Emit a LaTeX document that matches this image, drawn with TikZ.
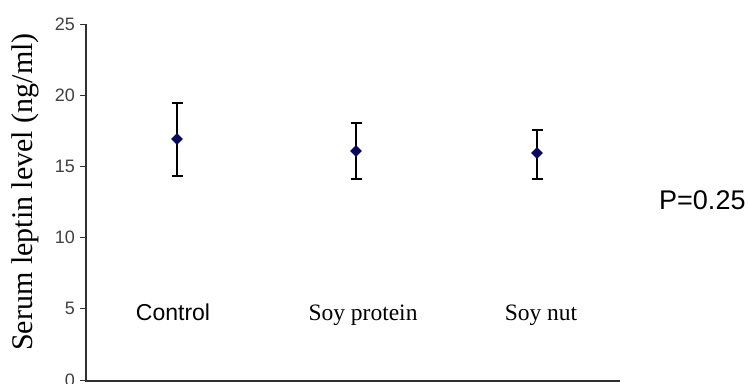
\documentclass[tikz,border=0pt]{standalone}
\usepackage{fontspec}
\setmainfont{Liberation Serif}
\newfontfamily\arialf{Liberation Sans}
\usetikzlibrary{shapes.geometric}
\definecolor{navy}{HTML}{0A0A5A}
\definecolor{axisgray}{HTML}{303030}
\begin{document}
\begin{tikzpicture}[x=1pt,y=-1pt,
  axisline/.style={draw=axisgray,line width=1.3pt},
  ticklab/.style={font=\arialf\fontsize{18}{18}\selectfont,text=black!75,anchor=east,inner sep=0pt},
  catlab/.style={inner sep=0pt,anchor=base},
  ebar/.style={draw=black,line width=1.3pt},
  pt/.style={diamond,fill=navy,inner sep=0pt,minimum size=12pt}]
\useasboundingbox (0,0) rectangle (749,383);
\fill[white] (0,0) rectangle (749,383);
% axes
\coordinate (ytop) at (86,24);
\coordinate (orig) at (86,381);
\coordinate (xend) at (620,381);
\draw[axisline] (ytop) -- (orig) -- (xend);
% ticks and labels
\foreach \v/\yy in {25/24,20/95,15/166,10/237,5/308,0/380}{
  \coordinate (t\v) at (86,\yy);
  \coordinate (tl\v) at (80,\yy);
  \draw[axisline,line width=1pt] (tl\v) -- (t\v);
  \node[ticklab] (lab\v) at (75,\yy) {\v};
}
% y axis title
\node[rotate=90,font=\fontsize{30}{30}\selectfont,inner sep=0pt] (ytitle) at (25,192) {Serum leptin level (ng/ml)};
% error bars
\foreach \n/\x/\top/\bot/\m in {c/177/103/176/139,p/356/123/179/151,n/537/130/179/153}{
  \coordinate (\n top) at (\x,\top);
  \coordinate (\n bot) at (\x,\bot);
  \coordinate (\n tl) at (\x-5.5,\top);
  \coordinate (\n tr) at (\x+5.5,\top);
  \coordinate (\n bl) at (\x-5.5,\bot);
  \coordinate (\n br) at (\x+5.5,\bot);
  \draw[ebar] (\n top) -- (\n bot);
  \draw[ebar] (\n tl) -- (\n tr);
  \draw[ebar] (\n bl) -- (\n br);
  \node[pt] (\n pt) at (\x,\m) {};
}
% category labels
\node[catlab,font=\arialf\fontsize{23}{23}\selectfont] (ctrl) at (173,320) {Control};
\node[catlab,font=\fontsize{23.5}{23.5}\selectfont] (soyp) at (363,320) {Soy protein};
\node[catlab,font=\fontsize{23.5}{23.5}\selectfont] (soyn) at (541,320) {Soy nut};
% p value
\node[font=\arialf\fontsize{27}{27}\selectfont,inner sep=0pt,anchor=west] (pval) at (659,200) {P=0.25};
\end{tikzpicture}
\end{document}
